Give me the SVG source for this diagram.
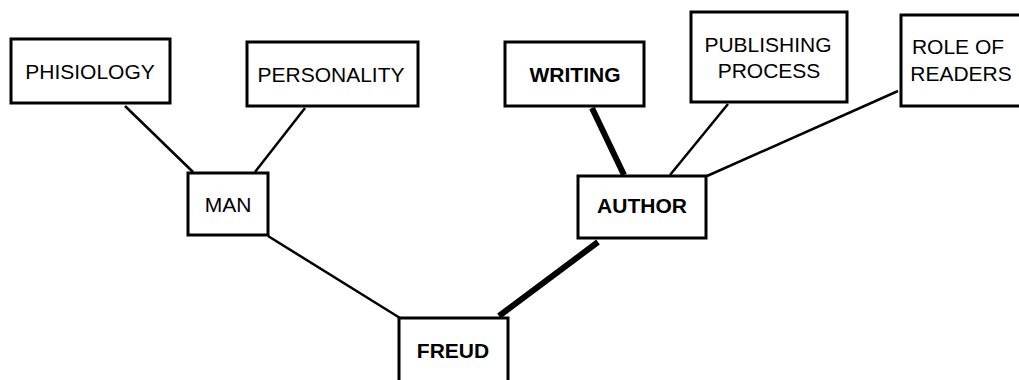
<svg xmlns="http://www.w3.org/2000/svg" width="1019" height="380" viewBox="0 0 1019 380">
<style>
.box{fill:#fff;stroke:#000;stroke-width:3}
.t{font-family:"Liberation Sans",Arial,sans-serif;font-size:21px;fill:#000;text-anchor:middle}
.b{font-weight:bold}
.thin{stroke:#000;stroke-width:2.5;fill:none}
.thick{stroke:#000;stroke-width:6;fill:none}
</style>
<rect width="1019" height="380" fill="#fff"/>
<g id="connectors">
<line class="thin" x1="125" y1="106" x2="193" y2="172"/>
<line class="thin" x1="305" y1="108" x2="255" y2="172"/>
<line class="thin" x1="268" y1="236" x2="400" y2="318"/>
<line class="thick" x1="598" y1="242" x2="499" y2="316"/>
<line class="thick" x1="592" y1="108" x2="624" y2="175"/>
<line class="thin" x1="728" y1="104" x2="670" y2="175"/>
<line class="thin" x1="898" y1="91" x2="707" y2="176"/>
</g>
<g id="phisiology"><rect class="box" x="11" y="39" width="159" height="64"/><text class="t" x="90" y="79">PHISIOLOGY</text></g>
<g id="personality"><rect class="box" x="247" y="42" width="171" height="64"/><text class="t" x="331" y="82">PERSONALITY</text></g>
<g id="man"><rect class="box" x="188" y="173" width="80" height="62"/><text class="t" x="228" y="212">MAN</text></g>
<g id="writing"><rect class="box" x="505" y="42" width="139" height="64"/><text class="t b" x="575" y="82">WRITING</text></g>
<g id="publishing"><rect class="box" x="691" y="12" width="156" height="90"/><text class="t" x="768" y="52">PUBLISHING</text><text class="t" x="769" y="78">PROCESS</text></g>
<g id="readers"><rect class="box" x="901" y="15" width="130" height="91"/><text class="t" x="958" y="54">ROLE OF</text><text class="t" x="961" y="81">READERS</text></g>
<g id="author"><rect class="box" x="578" y="176" width="128" height="62"/><text class="t b" x="642" y="213">AUTHOR</text></g>
<g id="freud"><rect class="box" x="399" y="318" width="109" height="70"/><text class="t b" x="453" y="358">FREUD</text></g>
</svg>
